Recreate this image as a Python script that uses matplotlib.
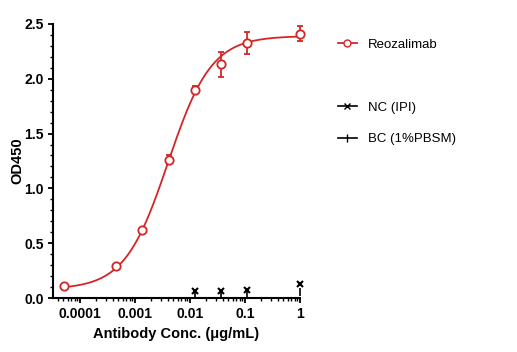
import numpy as np
import matplotlib.pyplot as plt
from matplotlib.lines import Line2D

# concentrations (ug/mL)
conc = [0.0000508, 0.000457, 0.00137, 0.0041, 0.0123, 0.037, 0.111, 1.0]
od_mean = [0.107, 0.29, 0.62, 1.26, 1.90, 2.13, 2.33, 2.41]
od_err = [0.01, 0.015, 0.02, 0.04, 0.03, 0.11, 0.10, 0.07]

ctrl_conc = [0.0123, 0.037, 0.111, 1.0]
nc_od = [0.06, 0.06, 0.075, 0.13]
bc_od = [0.05, 0.05, 0.05, 0.055]

# 4PL fit parameters (bottom, top, EC50, hill)
fit_bottom, fit_top, fit_ec50, fit_hill = 0.08, 2.39, 0.0040, 1.1

red = '#d42626'
plt.rcParams['font.family'] = ['Liberation Sans', 'DejaVu Sans']

fig = plt.figure(figsize=(5.17, 3.52), dpi=100)
ax = fig.add_axes([0.1025, 0.1534, 0.4775, 0.7786])

xs = np.logspace(np.log10(conc[0]), 0, 300)
ys = fit_bottom + (fit_top - fit_bottom) / (1 + (fit_ec50 / xs) ** fit_hill)
ax.plot(xs, ys, color=red, lw=1.3, clip_on=False)
ax.errorbar(conc, od_mean, yerr=od_err, fmt='o', mfc='white', mec=red, ecolor=red,
            ms=6, mew=1.3, elinewidth=1.3, capsize=2.5, capthick=1.3, clip_on=False)
ax.plot(ctrl_conc, nc_od, 'x', color='black', ms=5, mew=1.5, clip_on=False)
ax.plot(ctrl_conc, bc_od, '|', color='black', ms=6, mew=1.2, clip_on=False)

ax.set_xscale('log')
ax.set_xlim(10 ** -4.49, 1.0)
ax.set_ylim(0, 2.5)
ax.set_xticks([0.0001, 0.001, 0.01, 0.1, 1])
ax.set_xticklabels(['0.0001', '0.001', '0.01', '0.1', '1'])
ax.set_yticks([0, 0.5, 1.0, 1.5, 2.0, 2.5])
ax.set_yticklabels(['0.0', '0.5', '1.0', '1.5', '2.0', '2.5'])
ax.set_yticks(np.arange(0, 2.51, 0.1), minor=True)
for s in ['top', 'right']:
    ax.spines[s].set_visible(False)
for s in ['left', 'bottom']:
    ax.spines[s].set_linewidth(1.5)
ax.tick_params(which='major', length=3.5, width=1.3, labelsize=10, pad=3)
ax.tick_params(which='minor', length=2, width=1.0)
for lab in ax.get_xticklabels() + ax.get_yticklabels():
    lab.set_fontweight('bold')
ax.set_xlabel('Antibody Conc. (μg/mL)', fontsize=10.5, fontweight='bold', labelpad=4)
ax.set_ylabel('OD450', fontsize=10.5, fontweight='bold')
ax.yaxis.set_label_coords(-0.115, 0.5)

h1 = [Line2D([], [], color=red, marker='o', mfc='white', mec=red, ms=5, lw=1.3)]
fig.legend(h1, ['Reozalimab'], loc='upper left', bbox_to_anchor=(0.63, 0.925),
           frameon=False, fontsize=9.5, handlelength=1.5)
h2 = [Line2D([], [], color='black', marker='x', ms=5, lw=1.2),
      Line2D([], [], color='black', marker='|', ms=6, lw=1.2)]
fig.legend(h2, ['NC (IPI)', 'BC (1%PBSM)'], loc='upper left', bbox_to_anchor=(0.63, 0.745),
           frameon=False, fontsize=9.5, handlelength=1.5, labelspacing=1.45)

fig.savefig('out.png', dpi=100)
